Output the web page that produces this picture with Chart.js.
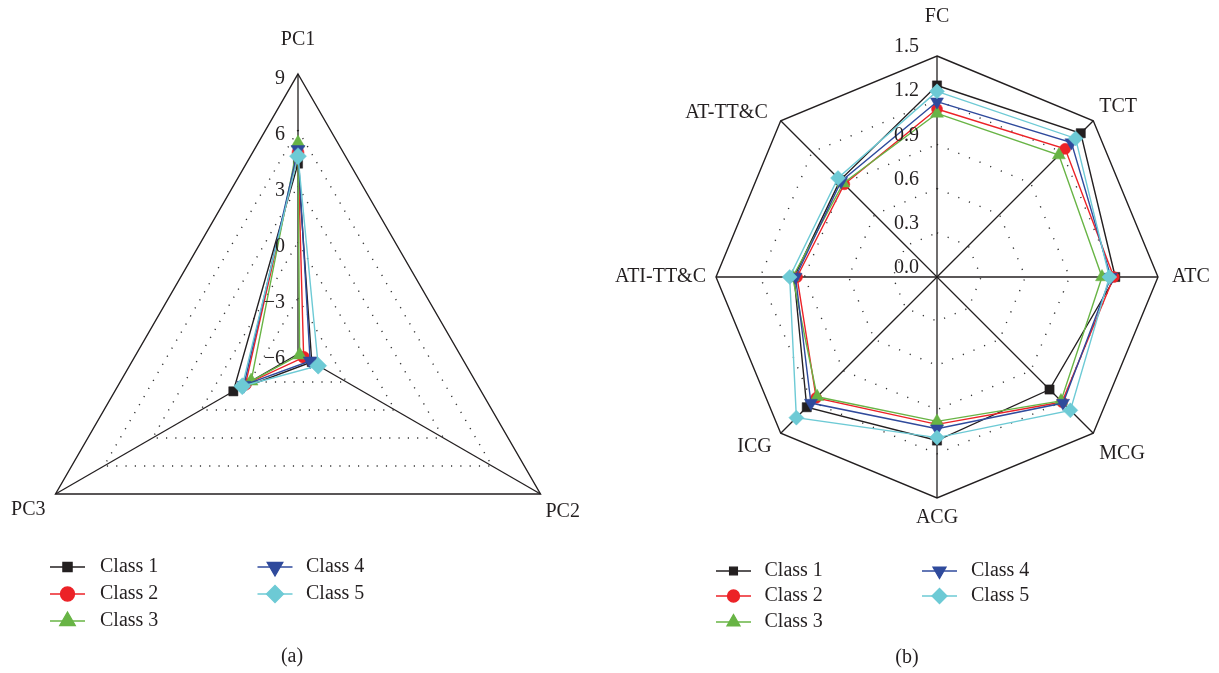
<!DOCTYPE html>
<html>
<head>
<meta charset="utf-8">
<script src="https://cdn.jsdelivr.net/npm/chart.js@4.4.1/dist/chart.umd.min.js"></script>
<style>
  html, body { margin: 0; padding: 0; background: #ffffff; }
  #wrap { position: relative; width: 1219px; height: 673px; overflow: hidden; }
  #wrap canvas { position: absolute; top: 0; }
  #pcChart { left: 0; }
  #idxChart { left: 609px; }
</style>
</head>
<body>
<div id="wrap">
  <canvas id="pcChart" width="609" height="673"></canvas>
  <canvas id="idxChart" width="610" height="673"></canvas>
</div>
<script>
// ---- (a) principal components ----
const classNames = ['Class 1', 'Class 2', 'Class 3', 'Class 4', 'Class 5'];
const pcAxes = ['PC1', 'PC2', 'PC3'];
const pcTickValues = [-6, -3, 0, 3, 6, 9];
const pcTickLabels = ['\u22126', '\u22123', '0', '3', '6', '9'];
const pcClass1 = [4.2, -5.15, -2.0];
const pcClass2 = [4.8, -5.65, -2.75];
const pcClass3 = [5.3, -5.9, -3.1];
const pcClass4 = [4.95, -5.25, -2.65];
const pcClass5 = [4.6, -4.75, -2.55];

// ---- (b) indicators ----
const idxAxes = ['FC', 'TCT', 'ATC', 'MCG', 'ACG', 'ICG', 'ATI-TT&C', 'AT-TT&C'];
const idxTickValues = [0, 0.3, 0.6, 0.9, 1.2, 1.5];
const idxTickLabels = ['0.0', '0.3', '0.6', '0.9', '1.2', '1.5'];
const idxClass1 = [1.30, 1.38, 1.21, 1.08, 1.11, 1.25, 0.97, 0.93];
const idxClass2 = [1.14, 1.23, 1.20, 1.20, 1.00, 1.16, 0.95, 0.89];
const idxClass3 = [1.11, 1.17, 1.12, 1.19, 0.98, 1.15, 0.98, 0.90];
const idxClass4 = [1.19, 1.29, 1.18, 1.21, 1.03, 1.21, 0.96, 0.92];
const idxClass5 = [1.26, 1.33, 1.17, 1.28, 1.09, 1.35, 1.00, 0.95];

const INK = '#231f20';
const FONT = '"Liberation Serif", "Times New Roman", serif';
const seriesStyle = [
  { color: '#231f20', pointStyle: 'rect',     rotation: 0 },
  { color: '#ec2227', pointStyle: 'circle',   rotation: 0 },
  { color: '#68b445', pointStyle: 'triangle', rotation: 0 },
  { color: '#2f4a9c', pointStyle: 'triangle', rotation: 180 },
  { color: '#6dcad5', pointStyle: 'rectRot',  rotation: 0 }
];

function buildDatasets(rows, radii) {
  return rows.map((values, i) => {
    const s = seriesStyle[i];
    return {
      label: classNames[i],
      data: values,
      borderColor: s.color,
      backgroundColor: s.color,
      pointBackgroundColor: s.color,
      pointBorderColor: s.color,
      pointBorderWidth: 0.5,
      pointStyle: s.pointStyle,
      pointRotation: s.rotation,
      pointRadius: radii[i],
      pointHoverRadius: radii[i],
      borderWidth: 1.4,
      fill: false,
      tension: 0,
      order: rows.length - i   // later classes are painted on top
    };
  });
}

// Axis names, tick labels along the first spoke, the two-column legend and the caption
const radarText = {
  id: 'radarText',
  afterDraw(chart, args, o) {
    const ctx = chart.ctx;
    const r = chart.scales.r;
    ctx.save();
    ctx.fillStyle = INK;
    ctx.font = '20px ' + FONT;
    ctx.textBaseline = 'middle';

    // tick labels
    ctx.textAlign = 'right';
    r.ticks.forEach((t) => {
      const k = o.tickValues.findIndex(v => Math.abs(v - t.value) < 1e-9);
      if (k < 0) return;
      const p = r.getPointPositionForValue(0, t.value);
      ctx.fillText(o.tickLabels[k], p.x + o.tickDx, p.y + o.tickDy);
    });

    // axis names at the spoke ends
    chart.data.labels.forEach((name, i) => {
      const p = r.getPointPosition(i, r.drawingArea);
      const pl = o.labelPlace[i];
      ctx.textAlign = pl[2];
      ctx.fillText(name, p.x + pl[0], p.y + pl[1]);
    });

    // legend
    const lg = o.legend;
    chart.data.datasets.forEach((ds, i) => {
      const col = i < 3 ? 0 : 1;
      const row = i < 3 ? i : i - 3;
      const cx = lg.cols[col][0];
      const tx = lg.cols[col][1];
      const y = lg.rows[row];
      ctx.save();
      ctx.strokeStyle = ds.borderColor;
      ctx.lineWidth = 1.3;
      ctx.beginPath();
      ctx.moveTo(cx - lg.half, y);
      ctx.lineTo(cx + lg.half, y);
      ctx.stroke();
      ctx.fillStyle = ds.borderColor;
      Chart.helpers.drawPoint(ctx, {
        pointStyle: ds.pointStyle,
        rotation: ds.pointRotation,
        radius: lg.radii[i],
        borderWidth: 0.5
      }, cx, y);
      ctx.restore();
      ctx.textAlign = 'left';
      ctx.fillText(ds.label, tx, y);
    });

    // caption
    ctx.textAlign = 'center';
    ctx.fillText(o.caption[0], o.caption[1], o.caption[2]);
    ctx.restore();
  }
};

function radialScale(min, max, step, dash) {
  const isOuter = (c) => c.tick && Math.abs(c.tick.value - max) < 1e-9;
  return {
    min: min,
    max: max,
    ticks: { display: false, stepSize: step },
    pointLabels: { display: false },
    angleLines: { display: true, color: INK, lineWidth: 1.3 },
    grid: {
      color: (c) => isOuter(c) ? INK : '#333333',
      lineWidth: (c) => isOuter(c) ? 1.4 : 1.4
    },
    border: { dash: (c) => isOuter(c) ? [] : dash }
  };
}

const commonOptions = {
  responsive: false,
  animation: false,
  devicePixelRatio: 1,
  plugins: { legend: { display: false }, tooltip: { enabled: false } },
  elements: { line: { borderJoinStyle: 'miter' } }
};

new Chart(document.getElementById('pcChart'), {
  type: 'radar',
  data: {
    labels: pcAxes,
    datasets: buildDatasets([pcClass1, pcClass2, pcClass3, pcClass4, pcClass5], [6.5, 6, 8, 8, 8.5])
  },
  options: Object.assign({}, commonOptions, {
    layout: { padding: { left: 18, right: 31, top: 74, bottom: 39 } },
    scales: { r: radialScale(-6, 9, 3, [1.2, 8.1]) },
    plugins: Object.assign({}, commonOptions.plugins, {
      radarText: {
        tickValues: pcTickValues,
        tickLabels: pcTickLabels,
        tickDx: -13, tickDy: 5,
        labelPlace: [[0, -34, 'center'], [5, 18, 'left'], [-10, 16, 'right']],
        legend: { cols: [[67.5, 100], [275, 306]], rows: [567, 594, 621], half: 17.5, radii: [6.5, 7, 9, 9, 8.5] },
        caption: ['(a)', 292, 657]
      }
    })
  }),
  plugins: [radarText]
});

new Chart(document.getElementById('idxChart'), {
  type: 'radar',
  data: {
    labels: idxAxes,
    datasets: buildDatasets([idxClass1, idxClass2, idxClass3, idxClass4, idxClass5], [6.5, 5.5, 7.5, 7.5, 7.5])
  },
  options: Object.assign({}, commonOptions, {
    layout: { padding: { left: 107, right: 61, top: 56, bottom: 175 } },
    scales: { r: radialScale(0, 1.5, 0.3, [1.2, 10.3]) },
    plugins: Object.assign({}, commonOptions.plugins, {
      radarText: {
        tickValues: idxTickValues,
        tickLabels: idxTickLabels,
        tickDx: -18, tickDy: -9,
        labelPlace: [[0, -39, 'center'], [6, -14, 'left'], [14, 0, 'left'], [6, 20, 'left'],
                     [0, 20, 'center'], [-9, 13, 'right'], [-10, 0, 'right'], [-13, -8, 'right']],
        legend: { cols: [[124.5, 155.5], [330.5, 362]], rows: [571, 596, 622], half: 17.5, radii: [5.5, 6, 7.5, 7.5, 7.5] },
        caption: ['(b)', 298, 658]
      }
    })
  }),
  plugins: [radarText]
});
</script>
</body>
</html>
